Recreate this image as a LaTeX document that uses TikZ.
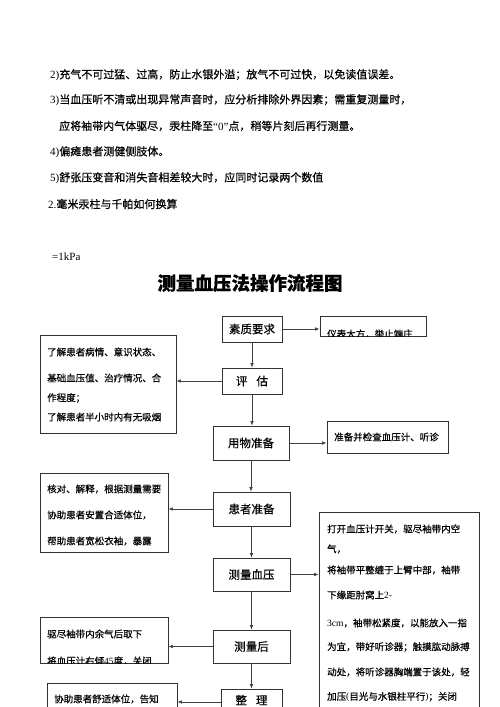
\documentclass[tikz,border=0pt]{standalone}
\usepackage{fontspec}
\setmainfont{Noto Sans CJK SC}[FakeBold=0.5]
\newfontfamily\lat{Liberation Serif}
\usetikzlibrary{arrows.meta}
\begin{document}
\begin{tikzpicture}[x=1pt,y=-1pt,
  box/.style={draw=black!80, line width=0.7pt, inner sep=0pt, rectangle},
  stepbox/.style={box, font=\fontsize{11.5}{12}\selectfont},
  txt/.style={anchor=west, inner sep=0pt, font=\fontsize{9.5}{10}\selectfont},
  para/.style={anchor=west, inner sep=0pt, font=\fontsize{11}{12}\selectfont},
  arr/.style={draw=black!75, line width=0.6pt, -{Latex[length=4.5pt,width=3.5pt]}}]
\clip (0,0) rectangle (500,707);
% top paragraph
\node[para] (p1) at (50,75) {{\lat 2)}充气不可过猛、过高，防止水银外溢；放气不可过快，以免读值误差。};
\node[para] (p2) at (50,100) {{\lat 3)}当血压听不清或出现异常声音时，应分析排除外界因素；需重复测量时，};
\node[para] (p3) at (59,126) {应将袖带内气体驱尽，汞柱降至{\lat “0”}点，稍等片刻后再行测量。};
\node[para] (p4) at (50,152) {{\lat 4)}偏瘫患者测健侧肢体。};
\node[para] (p5) at (50,178) {{\lat 5)}舒张压变音和消失音相差较大时，应同时记录两个数值};
\node[para] (p6) at (48,204) {{\lat 2.}毫米汞柱与千帕如何换算};
\node[para, font=\lat\fontsize{11}{12}\selectfont] (p7) at (52,257) {=1kPa};
\node[inner sep=0pt, font=\bfseries\fontsize{18.5}{20}\selectfont] (title) at (250,283) {测量血压法操作流程图};

% main column
\node[stepbox, minimum width=60pt, minimum height=26pt] (suzhi) at (252,329) {素质要求};
\node[stepbox, minimum width=60pt, minimum height=26pt] (pinggu) at (252,381) {评\hspace{9pt}估};
\node[stepbox, minimum width=76pt, minimum height=34pt] (yongwu) at (251,443) {用物准备};
\node[stepbox, minimum width=77pt, minimum height=34pt] (huanzhe) at (251.5,509) {患者准备};
\node[stepbox, minimum width=77pt, minimum height=33pt] (celiang) at (251.5,574.5) {测量血压};
\node[stepbox, minimum width=77pt, minimum height=33pt] (cehou) at (251.5,646.5) {测量后};
\node[box, minimum width=61pt, minimum height=26pt] (zhengli) at (251.5,702) {};
\node[inner sep=0pt, font=\fontsize{11.5}{12}\selectfont] (zhenglit) at (251.5,700) {整\hspace{9pt}理};

% side boxes
\node[box, minimum width=106pt, minimum height=20pt] (yibiao) at (373,326) {};
\begin{scope}
\clip (320,316) rectangle (426,336);
\node[txt] (yibiaot) at (327,334) {仪表大方，举止端庄};
\end{scope}

\node[box, minimum width=136pt, minimum height=98pt] (left1) at (108,384) {};
\node[txt] (l1a) at (47,352) {了解患者病情、意识状态、};
\node[txt] (l1b) at (47,378) {基础血压值、治疗情况、合};
\node[txt] (l1c) at (47,398) {作程度；};
\node[txt] (l1d) at (47,417) {了解患者半小时内有无吸烟};

\node[box, minimum width=121pt, minimum height=32pt] (zhunbei) at (387.5,437) {};
\node[txt] (zbt) at (334,437) {准备并检查血压计、听诊};

\node[box, minimum width=128pt, minimum height=79pt] (left2) at (104,512.5) {};
\node[txt] (l2a) at (47,489) {核对、解释，根据测量需要};
\node[txt] (l2b) at (47,515) {协助患者安置合适体位，};
\node[txt] (l2c) at (47,541) {帮助患者宽松衣袖，暴露};

\node[box, minimum width=160pt, minimum height=220pt] (right) at (399,622) {};
\node[txt] (r1) at (327,529) {打开血压计开关，驱尽袖带内空};
\node[txt] (r2) at (327,549) {气，};
\node[txt] (r3) at (327,570) {将袖带平整缠于上臂中部，袖带};
\node[txt] (r4) at (327,595) {下缘距肘窝上{\lat 2-}};
\node[txt] (r5) at (327,623) {{\lat 3cm}，袖带松紧度，以能放入一指};
\node[txt] (r6) at (327,647) {为宜，带好听诊器；触摸肱动脉搏};
\node[txt] (r7) at (327,672) {动处，将听诊器胸端置于该处，轻};
\node[txt] (r8) at (327,697) {加压{\lat (}目光与水银柱平行{\lat )}；关闭};

\node[box, minimum width=128pt, minimum height=46pt] (left3) at (104,640) {};
\node[txt] (l3a) at (47,634) {驱尽袖带内余气后取下};
\begin{scope}
\clip (40,617) rectangle (168,663);
\node[txt] (l3b) at (47,661) {将血压计右倾{\lat 45}度，关闭};
\end{scope}

\node[box, minimum width=130pt, minimum height=40pt] (left4) at (112,703) {};
\node[txt] (l4a) at (54,699) {协助患者舒适体位，告知};

% arrows
\draw[arr] (suzhi.south) -- (suzhi.south |- pinggu.north);
\draw[arr] (pinggu.south) -- (pinggu.south |- yongwu.north);
\draw[arr] (yongwu.south) -- (yongwu.south |- huanzhe.north);
\draw[arr] (huanzhe.south) -- (huanzhe.south |- celiang.north);
\draw[arr] (celiang.south) -- (celiang.south |- cehou.north);
\draw[arr] (cehou.south) -- (cehou.south |- zhengli.north);
\draw[arr] (suzhi.east) -- (suzhi.east -| yibiao.west);
\draw[arr] (pinggu.west) -- (pinggu.west -| left1.east);
\draw[arr] (yongwu.east) -- (yongwu.east -| zhunbei.west);
\draw[arr] (huanzhe.west) -- (huanzhe.west -| left2.east);
\draw[arr] (celiang.east) -- (celiang.east -| right.west);
\draw[arr] (cehou.west) -- (cehou.west -| left3.east);
\draw[arr] (zhengli.west) -- (zhengli.west -| left4.east);
\end{tikzpicture}
\end{document}
